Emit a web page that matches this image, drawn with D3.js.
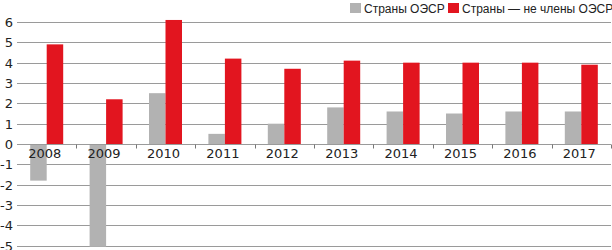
<!DOCTYPE html>
<html>
<head>
<meta charset="utf-8">
<script src="https://cdn.jsdelivr.net/npm/d3@7"></script>
<style>
body { margin: 0; background: #fff; }
svg { display: block; }
.grid line { stroke: #9a9a9a; stroke-width: 1; }
</style>
</head>
<body>
<script>
var width = 612;
var height = 250;

var years = ["2008", "2009", "2010", "2011", "2012", "2013", "2014", "2015", "2016", "2017"];
var oecd = [-1.8, -5.2, 2.5, 0.5, 1.0, 1.8, 1.6, 1.5, 1.6, 1.6];
var nonOecd = [4.9, 2.2, 6.1, 4.2, 3.7, 4.1, 4.0, 4.0, 4.0, 3.9];
var yTicks = [-5, -4, -3, -2, -1, 0, 1, 2, 3, 4, 5, 6];
var seriesNames = ["Страны ОЭСР", "Страны — не члены ОЭСР"];
var colors = ["#b2b2b2", "#e2151f"];

var left = 17, right = 611;

var svg = d3.select("body").append("svg")
    .attr("width", width)
    .attr("height", height);

var x = d3.scaleBand()
    .domain(years)
    .range([left, right]);

var y = d3.scaleLinear()
    .domain([-5, 6])
    .range([245.7, 22]);

var clip = svg.append("clipPath").attr("id", "plot")
    .append("rect")
    .attr("x", 0).attr("y", 0)
    .attr("width", width).attr("height", y(-5) + 1);

// grid lines
svg.append("g")
    .attr("class", "grid")
    .selectAll("line")
    .data(yTicks)
    .enter().append("line")
    .attr("x1", left)
    .attr("x2", right)
    .attr("y1", function(d) { return Math.round(y(d)) + 0.5; })
    .attr("y2", function(d) { return Math.round(y(d)) + 0.5; });

// y labels
svg.append("g")
    .selectAll("text")
    .data(yTicks)
    .enter().append("text")
    .attr("x", 13)
    .attr("y", function(d) { return y(d) + 5; })
    .attr("text-anchor", "end")
    .style("font-family", "DejaVu Sans")
    .style("font-size", "13px")
    .style("fill", "#222")
    .text(function(d) { return d < 0 ? "-" + Math.abs(d) : d; });

var barW = 16.5;

var bars = svg.append("g").attr("clip-path", "url(#plot)");

bars.selectAll(".oecd")
    .data(oecd)
    .enter().append("rect")
    .attr("class", "oecd")
    .attr("x", function(d, i) { return x(years[i]) + x.bandwidth() / 2 - barW; })
    .attr("width", barW)
    .attr("y", function(d) { return y(Math.max(0, d)); })
    .attr("height", function(d) { return Math.abs(y(d) - y(0)); })
    .style("fill", colors[0]);

bars.selectAll(".non")
    .data(nonOecd)
    .enter().append("rect")
    .attr("class", "non")
    .attr("x", function(d, i) { return x(years[i]) + x.bandwidth() / 2; })
    .attr("width", barW)
    .attr("y", function(d) { return y(Math.max(0, d)); })
    .attr("height", function(d) { return Math.abs(y(d) - y(0)); })
    .style("fill", colors[1]);

// zero axis with category ticks
var x0 = d3.axisBottom(x).tickSize(0).tickFormat("");
var zero = svg.append("g")
    .attr("transform", "translate(0," + (Math.round(y(0)) + 0.5) + ")");
zero.append("line")
    .attr("x1", left).attr("x2", right)
    .style("stroke", "#9a9a9a");
zero.selectAll(".tk")
    .data(years.slice(1).concat(["end"]))
    .enter().append("line")
    .attr("x1", function(d, i) { return Math.round(x(years[0]) + x.step() * (i + 1)) + 0.5; })
    .attr("x2", function(d, i) { return Math.round(x(years[0]) + x.step() * (i + 1)) + 0.5; })
    .attr("y1", 0).attr("y2", 4)
    .style("stroke", "#777");

// year labels
svg.append("g")
    .selectAll("text")
    .data(years)
    .enter().append("text")
    .attr("x", function(d) { return x(d) + x.bandwidth() / 2 - 2; })
    .attr("y", y(0) + 14)
    .attr("text-anchor", "middle")
    .style("font-family", "DejaVu Sans")
    .style("font-size", "13px")
    .style("fill", "#222")
    .text(function(d) { return d; });

// legend
var legend = svg.append("g").attr("transform", "translate(350,3)");
var lx = [0, 98];
seriesNames.forEach(function(name, i) {
    legend.append("rect")
        .attr("x", lx[i]).attr("y", 0)
        .attr("width", 11).attr("height", 10)
        .style("fill", colors[i]);
    legend.append("text")
        .attr("x", lx[i] + 14).attr("y", 10)
        .style("font-family", "Liberation Sans")
        .style("font-size", "12px")
        .style("fill", "#222")
        .text(name);
});
</script>
</body>
</html>
